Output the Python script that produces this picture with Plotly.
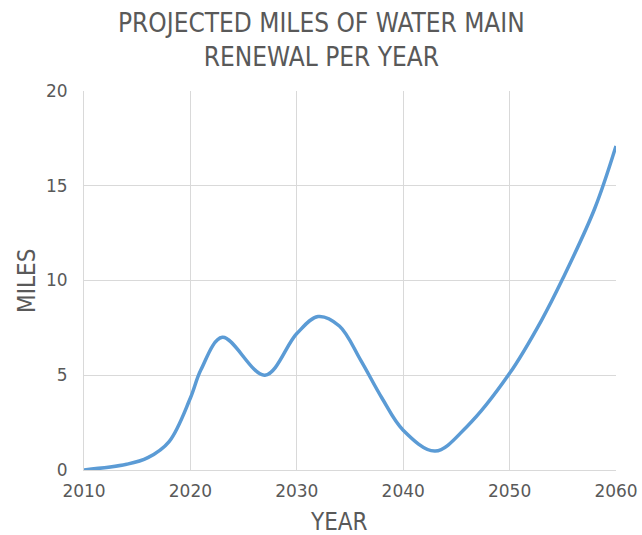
import plotly.graph_objects as go

years = [2010, 2014, 2016, 2018, 2020, 2021, 2023, 2027, 2030, 2032, 2034, 2036, 2038, 2040, 2043, 2046, 2050, 2053, 2055, 2058, 2060]
miles = [0.0, 0.3, 0.65, 1.5, 3.8, 5.3, 7.0, 5.0, 7.2, 8.1, 7.6, 5.8, 3.8, 2.1, 1.0, 2.3, 5.1, 7.9, 10.1, 13.8, 17.1]

x_ticks = [2010, 2020, 2030, 2040, 2050, 2060]
y_ticks = [0, 5, 10, 15, 20]

title_text = "PROJECTED MILES OF WATER MAIN<br>RENEWAL PER YEAR"
x_title = "YEAR"
y_title = "MILES"

gray = "#595959"
cond = "DejaVu Sans Condensed, Roboto Condensed, Liberation Sans Narrow, Roboto, sans-serif"

fig = go.Figure()
fig.add_trace(go.Scatter(
    x=years, y=miles, mode="lines",
    line=dict(color="#5B9BD5", width=3.5, shape="spline", smoothing=1.0),
    showlegend=False, hoverinfo="skip",
))

H = 535 - 91 - 65
W = 642 - 84 - 26

fig.update_layout(
    width=642, height=535,
    margin=dict(l=84, r=26, t=91, b=65, autoexpand=False),
    paper_bgcolor="white", plot_bgcolor="white",
    xaxis=dict(range=[2010, 2060], tickvals=x_ticks, ticktext=[str(v) for v in x_ticks],
               showgrid=True, gridcolor="#d9d9d9", gridwidth=1, zeroline=False,
               showline=True, linecolor="#d9d9d9", ticks="", automargin=False,
               ticklabelstandoff=6,
               tickfont=dict(family="DejaVu Sans", size=17, color=gray)),
    yaxis=dict(range=[0, 20], tickvals=y_ticks, ticktext=[str(v) for v in y_ticks],
               showgrid=True, gridcolor="#d9d9d9", gridwidth=1, zeroline=False,
               showline=True, linecolor="#d9d9d9", ticks="", ticklabelstandoff=12,
               automargin=False,
               tickfont=dict(family="DejaVu Sans", size=17, color=gray)),
    annotations=[
        dict(text=title_text, xref="paper", yref="paper", x=(321 - 84) / W, y=1 + (91 - 40) / H,
             xanchor="center", yanchor="middle", showarrow=False, align="center",
             font=dict(family=cond, size=26, color=gray)),
        dict(text=x_title, xref="paper", yref="paper", x=(339 - 84) / W, y=-(522 - 470) / H,
             xanchor="center", yanchor="middle", showarrow=False,
             font=dict(family=cond, size=24, color=gray)),
        dict(text=y_title, xref="paper", yref="paper", x=-(84 - 27) / W, y=(470 - 281) / H,
             xanchor="center", yanchor="middle", showarrow=False, textangle=-90,
             font=dict(family=cond, size=24, color=gray)),
    ],
)

fig.write_html("out.html", config={"displayModeBar": False},
               post_script="document.body.style.margin='0';document.body.style.overflow='hidden';")
